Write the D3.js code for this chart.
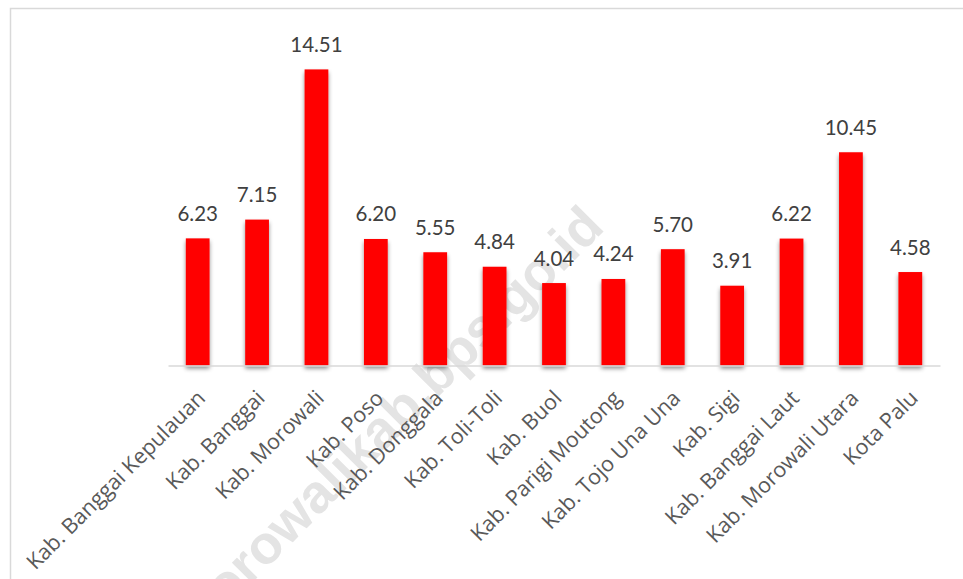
<!DOCTYPE html>
<html>
<head>
<meta charset="utf-8">
<script src="https://cdn.jsdelivr.net/npm/d3@7"></script>
<style>
  html, body { margin: 0; padding: 0; background: #ffffff; }
  svg { display: block; }
</style>
</head>
<body>
<svg id="chart" width="963" height="579"></svg>
<script>
// Regencies / city of Sulawesi Tengah
const categories = [
  "Kab. Banggai Kepulauan", "Kab. Banggai", "Kab. Morowali", "Kab. Poso",
  "Kab. Donggala", "Kab. Toli-Toli", "Kab. Buol", "Kab. Parigi Moutong",
  "Kab. Tojo Una Una", "Kab. Sigi", "Kab. Banggai Laut", "Kab. Morowali Utara",
  "Kota Palu"
];
const values = [6.23, 7.15, 14.51, 6.20, 5.55, 4.84, 4.04, 4.24, 5.70, 3.91, 6.22, 10.45, 4.58];
const valueLabels = ["6.23", "7.15", "14.51", "6.20", "5.55", "4.84", "4.04", "4.24", "5.70", "3.91", "6.22", "10.45", "4.58"];
const watermarkText = "morowalikab.bps.go.id";

const W = 963, H = 579;
const svg = d3.select("#chart");

// drop shadow under each bar
const defs = svg.append("defs");
const f = defs.append("filter").attr("id", "barShadow")
  .attr("x", "-50%").attr("y", "-20%").attr("width", "200%").attr("height", "140%");
f.append("feDropShadow").attr("dx", 0).attr("dy", 3).attr("stdDeviation", 2.2)
  .attr("flood-color", "#000").attr("flood-opacity", 0.45);

// chart area frame (left and top edges)
svg.append("path")
  .attr("d", `M10.5,${H} L10.5,8.5 L${W},8.5`)
  .attr("fill", "none").attr("stroke", "#d9d9d9").attr("stroke-width", 1.5);

const x = d3.scaleBand().domain(categories).range([168, 940]).paddingInner(0.6).paddingOuter(0.3);
const y = d3.scaleLinear().domain([0, 16]).range([365.5, 39]);

// watermark behind the bars
svg.append("text")
  .attr("transform", "translate(606,229) rotate(-45)")
  .attr("text-anchor", "end")
  .style("font-family", "'Liberation Sans', Arial, sans-serif")
  .style("font-weight", "bold")
  .style("font-size", "54px")
  .attr("fill", "#e4e4e4")
  .text(watermarkText);

// bars
svg.append("g").selectAll("rect").data(values).join("rect")
  .attr("x", (d, i) => x(categories[i]))
  .attr("y", d => y(d))
  .attr("width", x.bandwidth())
  .attr("height", d => y(0) - y(d))
  .attr("fill", "#ff0000")
  .attr("filter", "url(#barShadow)");

// category axis
const axis = svg.append("g").attr("transform", `translate(0,${y(0)})`)
  .call(d3.axisBottom(x).tickSize(0).tickSizeOuter(0));
axis.select(".domain").attr("stroke", "#d9d9d9").attr("stroke-width", 1.5);
axis.selectAll(".tick text")
  .style("font-family", "'Open Sans', sans-serif")
  .style("font-size", "21.5px")
  .attr("fill", "#595959")
  .attr("text-anchor", "end")
  .attr("dy", 0).attr("y", 0)
  .attr("transform", "translate(9,34) rotate(-45)");

// value labels
svg.append("g").selectAll("text").data(values).join("text")
  .attr("x", (d, i) => x(categories[i]) + x.bandwidth() / 2)
  .attr("y", d => y(d) - 17.5)
  .attr("text-anchor", "middle")
  .style("font-family", "Lato, 'Open Sans', sans-serif")
  .style("font-size", "20.5px")
  .attr("fill", "#404040")
  .text((d, i) => valueLabels[i]);
</script>
</body>
</html>
